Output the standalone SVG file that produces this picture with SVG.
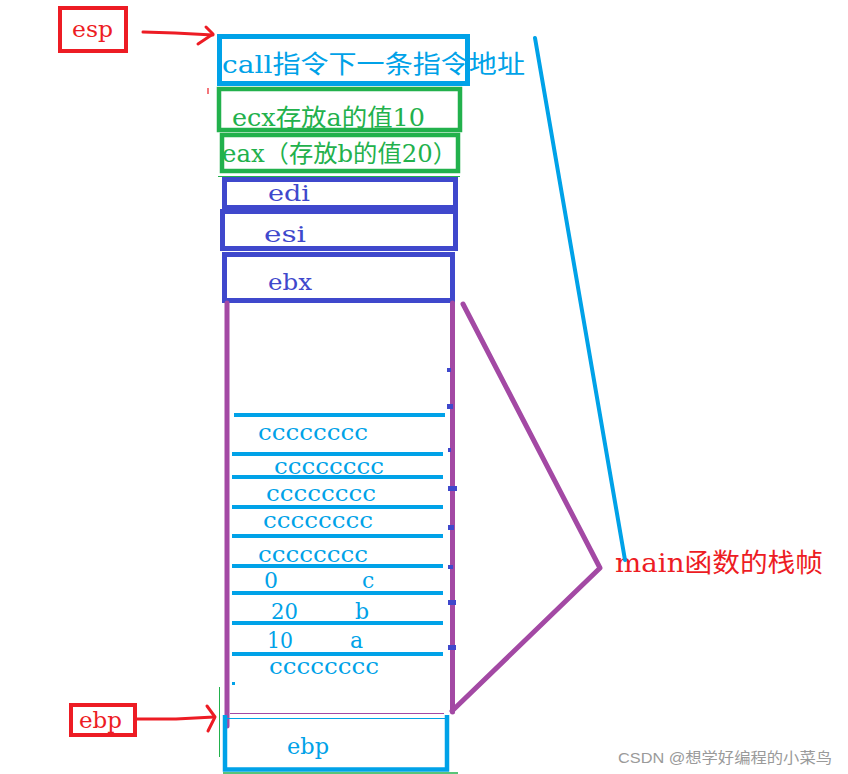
<svg xmlns="http://www.w3.org/2000/svg" width="848" height="774" viewBox="0 0 848 774">
<style>
  .t { font-family: "DejaVu Serif", "Noto Sans CJK SC", serif; }
  .red { fill: #ED1C24; }
  .cyan { fill: #00A2E8; }
  .green { fill: #22B14C; }
  .indigo { fill: #3F48CC; }
  .box-red { fill: none; stroke: #ED1C24; stroke-width: 4; }
  .box-cyan { fill: none; stroke: #00A2E8; stroke-width: 5; }
  .box-green { fill: none; stroke: #22B14C; stroke-width: 4.5; }
  .box-indigo { fill: none; stroke: #3F48CC; stroke-width: 5; }
  .purple { fill: none; stroke: #A349A4; stroke-width: 5; stroke-linecap: round; stroke-linejoin: round; }
  .sep { stroke: #00A2E8; stroke-width: 4; }
  .arrow { fill: none; stroke: #ED1C24; stroke-width: 3; stroke-linecap: round; stroke-linejoin: round; }
  .tick { fill: #3F48CC; }
</style>
<rect width="848" height="774" fill="#ffffff"/>

<g id="esp-label">
  <rect class="box-red" x="60" y="8" width="66" height="43"/>
  <text class="t red" x="72" y="37" font-size="23" textLength="41" lengthAdjust="spacingAndGlyphs">esp</text>
</g>

<g id="ret-addr">
  <rect class="box-cyan" x="219.5" y="36.5" width="248" height="47"/>
  <text class="t cyan" x="222" y="73" font-size="25" textLength="303" lengthAdjust="spacingAndGlyphs">call指令下一条指令地址</text>
</g>

<g id="ecx">
  <rect class="box-green" x="219" y="89" width="241" height="41"/>
  <text class="t green" x="232" y="126" font-size="24" textLength="193" lengthAdjust="spacingAndGlyphs">ecx存放a的值10</text>
</g>

<g id="eax">
  <rect class="box-green" x="222" y="135" width="236" height="36"/>
  <text class="t green" x="222" y="162" font-size="24" textLength="235" lengthAdjust="spacingAndGlyphs">eax（存放b的值20）</text>
  <line x1="218" y1="176.5" x2="460" y2="176.5" stroke="#22B14C" stroke-width="1"/>
</g>

<g id="edi">
  <rect class="box-indigo" x="224.5" y="179.5" width="231" height="28"/>
  <text class="t indigo" x="268" y="201" font-size="23" textLength="42" lengthAdjust="spacingAndGlyphs">edi</text>
</g>

<g id="esi">
  <rect class="box-indigo" x="222.5" y="211.5" width="233" height="37"/>
  <text class="t indigo" x="264" y="242" font-size="23" textLength="42" lengthAdjust="spacingAndGlyphs">esi</text>
</g>

<g id="ebx">
  <rect class="box-indigo" x="224.5" y="254.5" width="228" height="46"/>
  <text class="t indigo" x="268" y="290" font-size="23" textLength="44" lengthAdjust="spacingAndGlyphs">ebx</text>
</g>

<g id="main-frame">
  <line class="purple" x1="227" y1="303" x2="227" y2="726"/>
  <line class="purple" x1="452.5" y1="303" x2="452.5" y2="712"/>
  <line x1="230" y1="713.5" x2="444" y2="713.5" stroke="#A349A4" stroke-width="1.2"/>
  <rect class="tick" x="447" y="368" width="4" height="4"/>
  <rect class="tick" x="447" y="404" width="6" height="5"/>
  <rect class="tick" x="448" y="448" width="3" height="4"/>
  <rect class="tick" x="448" y="486" width="9" height="5"/>
  <rect class="tick" x="448" y="525" width="6" height="5"/>
  <rect class="tick" x="448" y="565" width="5" height="4"/>
  <rect class="tick" x="448" y="600" width="8" height="5"/>
  <rect class="tick" x="448" y="645" width="8" height="5"/>
</g>

<g id="locals">
  <line class="sep" x1="234" y1="415" x2="445" y2="415"/>
  <text class="t cyan" x="258" y="440" font-size="22" textLength="110" lengthAdjust="spacingAndGlyphs">cccccccc</text>
  <line class="sep" x1="232" y1="454" x2="443" y2="454"/>
  <text class="t cyan" x="274" y="474" font-size="22" textLength="110" lengthAdjust="spacingAndGlyphs">cccccccc</text>
  <line class="sep" x1="232" y1="477" x2="443" y2="477"/>
  <text class="t cyan" x="266" y="501" font-size="22" textLength="110" lengthAdjust="spacingAndGlyphs">cccccccc</text>
  <line class="sep" x1="232" y1="507" x2="443" y2="507"/>
  <text class="t cyan" x="263" y="528" font-size="22" textLength="110" lengthAdjust="spacingAndGlyphs">cccccccc</text>
  <line class="sep" x1="232" y1="536" x2="443" y2="536"/>
  <text class="t cyan" x="258" y="562" font-size="22" textLength="110" lengthAdjust="spacingAndGlyphs">cccccccc</text>
  <line class="sep" x1="232" y1="566" x2="443" y2="566"/>
  <text class="t cyan" x="264" y="588" font-size="22">0</text>
  <text class="t cyan" x="362" y="588" font-size="22">c</text>
  <line class="sep" x1="232" y1="593" x2="443" y2="593"/>
  <text class="t cyan" x="271" y="619" font-size="22" textLength="27" lengthAdjust="spacingAndGlyphs">20</text>
  <text class="t cyan" x="355" y="619" font-size="22">b</text>
  <line class="sep" x1="232" y1="623" x2="443" y2="623"/>
  <text class="t cyan" x="267" y="648" font-size="22" textLength="26" lengthAdjust="spacingAndGlyphs">10</text>
  <text class="t cyan" x="350" y="648" font-size="22">a</text>
  <line class="sep" x1="232" y1="654" x2="443" y2="654"/>
  <text class="t cyan" x="269" y="674" font-size="22" textLength="110" lengthAdjust="spacingAndGlyphs">cccccccc</text>
  <rect x="232" y="682" width="3" height="3" fill="#00A2E8"/>
</g>

<g id="ebp-slot">
  <line x1="225" y1="718.5" x2="446" y2="718.5" stroke="#00A2E8" stroke-width="1.2"/>
  <path d="M225 715 V769.5 H447 V715" fill="none" stroke="#00A2E8" stroke-width="4.5"/>
  <line x1="223" y1="773" x2="458" y2="773" stroke="#22B14C" stroke-width="1.5"/>
  <text class="t cyan" x="287" y="754" font-size="23" textLength="42" lengthAdjust="spacingAndGlyphs">ebp</text>
</g>

<g id="ebp-label">
  <rect class="box-red" x="71" y="705" width="64" height="30"/>
  <text class="t red" x="79" y="728" font-size="23" textLength="43" lengthAdjust="spacingAndGlyphs">ebp</text>
</g>

<g id="main-label">
  <text class="t red" x="615" y="572" font-size="26" textLength="208" lengthAdjust="spacingAndGlyphs">main函数的栈帧</text>
</g>

<g id="watermark">
  <text x="618" y="763" font-family="Liberation Sans, 'Noto Sans CJK SC', sans-serif" font-size="15" fill="#9a9a9a" textLength="214" lengthAdjust="spacingAndGlyphs">CSDN @想学好编程的小菜鸟</text>
</g>

<g id="connectors">
  <path class="arrow" d="M143 32 L175 33 L213 35"/>
  <path class="arrow" d="M206 27 L213 34 L198 44"/>
  <line x1="208" y1="88" x2="208" y2="94" stroke="#ED1C24" stroke-width="1.2"/>
  <path class="arrow" d="M137 719 L176 719 L214 717"/>
  <path class="arrow" d="M207 706 L215 717 L208 731"/>
  <line x1="219.5" y1="687" x2="219.5" y2="757" stroke="#22B14C" stroke-width="1"/>
  <polyline class="purple" points="463,304 600,568 452,711"/>
  <line x1="535" y1="38" x2="625" y2="560" stroke="#00A2E8" stroke-width="4" stroke-linecap="round"/>
</g>
</svg>
